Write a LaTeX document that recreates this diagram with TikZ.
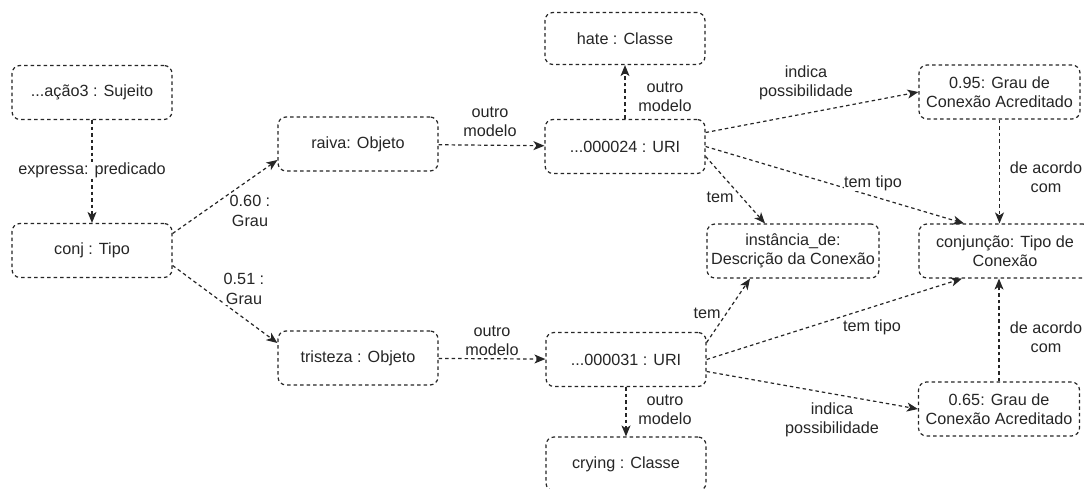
\documentclass[tikz,border=0pt]{standalone}
\usepackage{fontspec}
\setmainfont{Liberation Sans}
\usetikzlibrary{arrows.meta,calc}
\tikzset{
  box/.style={draw=black!85, dash pattern=on 3.5pt off 3pt, rounded corners=8pt, line width=1.2pt,
    minimum width=160pt, minimum height=54pt, align=center, inner sep=0pt,
    font=\fontsize{16.2}{19.5}\selectfont, text=black!85},
  conn/.style={draw=black!85, dash pattern=on 3.5pt off 3pt, line width=1.2pt,
    -{Stealth[length=11pt,width=9pt,inset=3pt]}},
  lbl/.style={align=center, inner sep=0.5pt, fill=white,
    font=\fontsize{16.2}{19.5}\selectfont, text=black!85}
}
\begin{document}
\begin{tikzpicture}[x=1pt,y=-1pt]
\useasboundingbox (0,0) rectangle (1084,488);
\clip (0,0) rectangle (1084,488);
\fill[white] (0,0) rectangle (1084,488);

% nodes
\node[box] (suj) at (92,92.5) {...ação3 : Sujeito};
\node[box] (conj) at (92,250.5) {conj : Tipo};
\node[box] (raiva) at (358,144) {raiva: Objeto};
\node[box] (trist) at (358,358) {tristeza : Objeto};
\node[box] (u24) at (625,146.5) {...000024 : URI};
\node[box, minimum height=52pt] (hate) at (625,38.5) {hate : Classe};
\node[box] (u31) at (626,359.5) {...000031 : URI};
\node[box] (crying) at (626,464) {crying : Classe};
\node[box, minimum width=172pt] (inst) at (793,251) {instância\_de:\\Descrição da Conexão};
\node[box, minimum width=172pt] (conjt) at (1005,251) {conjunção: Tipo de\\Conexão};
\node[box, minimum width=161pt] (g95) at (999.5,92) {0.95: Grau de\\Conexão Acreditado};
\node[box, minimum width=161pt] (g65) at (999,409) {0.65: Grau de\\Conexão Acreditado};

% connectors
\draw[conn] (suj) -- (conj);
\draw[conn] ([yshift=17pt]conj.east) -- ([yshift=-16pt]raiva.west);
\draw[conn] ([yshift=-15pt]conj.east) -- ([yshift=15pt]trist.west);
\draw[conn] (raiva) -- (u24);
\draw[conn] (trist) -- (u31);
\draw[conn] (u24) -- (hate);
\draw[conn] (u31) -- (crying);
\draw[conn] ([yshift=14pt]u24.east) -- (g95.west);
\draw[conn] (u24.east) -- ([xshift=-41pt]conjt.north);
\draw[conn] ([yshift=-10pt]u24.east) -- ([xshift=-28pt]inst.north);
\draw[conn] ([yshift=17pt]u31.east) -- ([xshift=-43pt]inst.south);
\draw[conn] (u31.east) -- ([xshift=-43pt]conjt.south);
\draw[conn] ([yshift=-12pt]u31.east) -- (g65.west);
\draw[conn] (g95.south) -- (g95.south |- conjt.north);
\draw[conn] (g65.north) -- (g65.north |- conjt.south);

% labels
\node[lbl] (l1) at (92,170) {expressa: predicado};
\node[lbl] (l2) at (250,211) {0.60 :\\Grau};
\node[lbl] (l3) at (244,289) {0.51 :\\Grau};
\node[lbl] (l4) at (490,122) {outro\\modelo};
\node[lbl] (l5) at (492,341) {outro\\modelo};
\node[lbl] (l6) at (665,97) {outro\\modelo};
\node[lbl] (l7) at (665,410) {outro\\modelo};
\node[lbl] (l8) at (806,83) {indica\\possibilidade};
\node[lbl] (l9) at (832,420) {indica\\possibilidade};
\node[lbl] (l10) at (873,183) {tem tipo};
\node[lbl] (l11) at (872,327) {tem tipo};
\node[lbl] (l12) at (720,197) {tem};
\node[lbl] (l13) at (707,313) {tem};
\node[lbl] (l14) at (1046,177) {de acordo\\com};
\node[lbl] (l15) at (1046,337) {de acordo\\com};
\end{tikzpicture}
\end{document}
